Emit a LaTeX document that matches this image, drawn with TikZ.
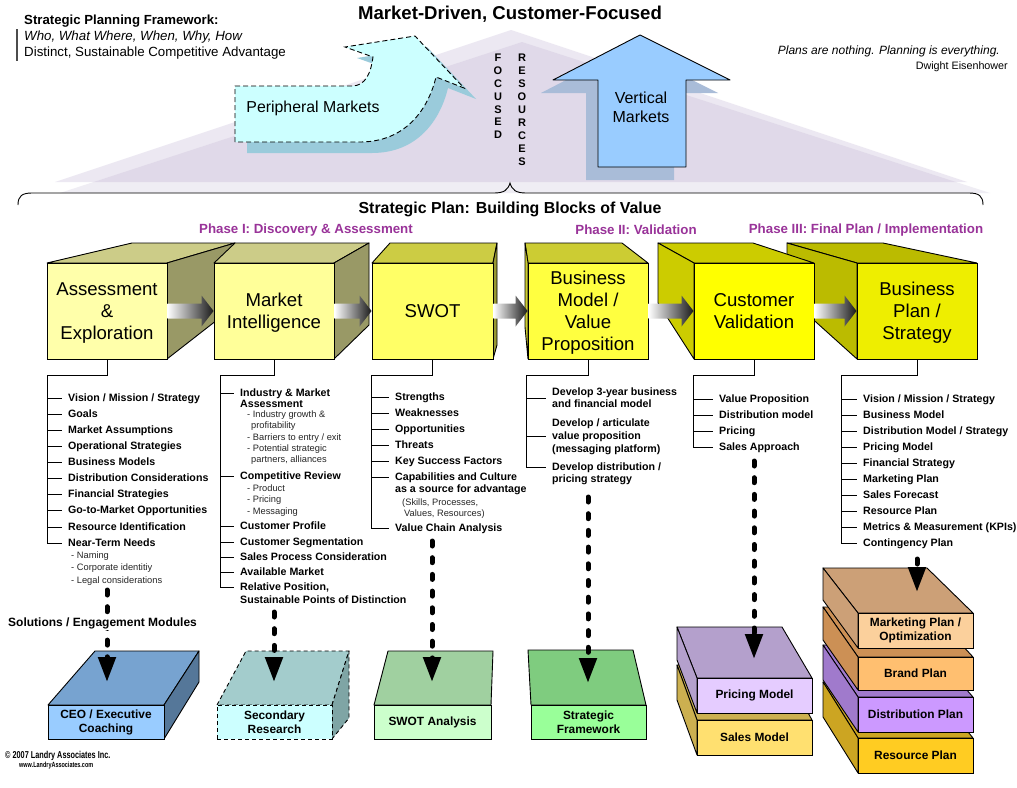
\documentclass[tikz,border=0pt]{standalone}
\usepackage{fontspec}
\setmainfont{Liberation Sans}
\newfontfamily\narrowfont[FakeStretch=0.73]{Liberation Sans}
\usetikzlibrary{arrows.meta,calc}
\newcommand\myfs[2]{\fontsize{#1}{#2}\selectfont}
\definecolor{lavA}{HTML}{ECE8F2}
\definecolor{lavB}{HTML}{EFEDF4}
\definecolor{lavC}{HTML}{E0D9E9}
\definecolor{perifill}{HTML}{CCFFFF}
\definecolor{perishad}{HTML}{9ACBDB}
\definecolor{vertfill}{HTML}{99CCFF}
\definecolor{vertshad}{HTML}{A9BCD8}
\definecolor{phasecol}{HTML}{993399}
\definecolor{cAfront}{HTML}{FFFFAA}
\definecolor{cBfront}{HTML}{FFFF99}
\definecolor{cABtop}{HTML}{CCCC88}
\definecolor{cABside}{HTML}{999966}
\definecolor{cCfront}{HTML}{FFFF66}
\definecolor{cCtop}{HTML}{CCCC44}
\definecolor{cCside}{HTML}{999933}
\definecolor{cDfront}{HTML}{FFFF40}
\definecolor{cDtop}{HTML}{CCCC33}
\definecolor{cEfront}{HTML}{FFFF00}
\definecolor{cEtop}{HTML}{CCCC00}
\definecolor{cFfront}{HTML}{EEEE00}
\definecolor{cFtop}{HTML}{BBBB00}
\definecolor{mAfront}{HTML}{99CCFF}
\definecolor{mAtop}{HTML}{77A3D0}
\definecolor{mAside}{HTML}{557799}
\definecolor{mBfront}{HTML}{CCFFFF}
\definecolor{mBtop}{HTML}{A3CCCC}
\definecolor{mBside}{HTML}{7FA5A5}
\definecolor{mCfront}{HTML}{CCFFCC}
\definecolor{mCtop}{HTML}{A0D0A0}
\definecolor{mDfront}{HTML}{99FF99}
\definecolor{mDtop}{HTML}{7FCC7F}
\definecolor{pricefront}{HTML}{E5CCFF}
\definecolor{pricetop}{HTML}{B4A0CC}
\definecolor{salesfront}{HTML}{FFE070}
\definecolor{salestop}{HTML}{CCB050}
\definecolor{mktfront}{HTML}{FBD09C}
\definecolor{mkttop}{HTML}{CCA077}
\definecolor{brandfront}{HTML}{FFBF70}
\definecolor{brandtop}{HTML}{CC9055}
\definecolor{distfront}{HTML}{CC99FF}
\definecolor{disttop}{HTML}{A07ACC}
\definecolor{resfront}{HTML}{FFCC22}
\definecolor{restop}{HTML}{CCA522}
\begin{document}
\begin{tikzpicture}[x=1pt,y=-1pt,
  every node/.style={inner sep=0pt},
  edge/.style={draw=black,line width=0.9pt,line join=round},
  tree/.style={line width=0.9pt},
  cubefront/.style={draw=black,line width=0.9pt,minimum width=120pt,minimum height=96pt,align=center,text depth=0pt,font=\myfs{18.6}{22}},
  modfront/.style={draw=black,line width=0.9pt,align=center,font=\bfseries\myfs{11.9}{14}},
  itm/.style={anchor=west,inner xsep=6pt,inner ysep=0pt,font=\bfseries\myfs{10.65}{12},text height=7.6pt,text depth=0pt},
  subitm/.style={anchor=west,inner sep=0pt,font=\myfs{9.3}{11},text height=6.7pt,text depth=0pt,text=black!85},
  garrow/.style={left color=white,middle color=black!40,right color=black!90},
  dasharr/.style={line width=5pt,dash pattern=on 5pt off 11.7pt,line cap=round,-{Triangle[width=17pt,length=25pt]}},
  phase/.style={font=\bfseries\myfs{13.3}{15},text=phasecol}]
\useasboundingbox (0,0) rectangle (1017,787);
\fill[white] (0,0) rectangle (1017,787);

% background triangles
\fill[lavA] (55,182) -- (511,30) -- (967,182) -- cycle;
\fill[lavB] (60,193) -- (522,42) -- (990,193) -- cycle;
\begin{scope}
  \clip (55,182) -- (511,30) -- (967,182) -- cycle;
  \fill[lavC] (60,193) -- (522,42) -- (990,193) -- cycle;
\end{scope}

% brace
\draw[line width=0.9pt] (18,205) .. controls (18,196) and (22,193) .. (32,193) -- (494,193)
  .. controls (504,193) and (508,190) .. (510,183) .. controls (512,190) and (516,193) .. (526,193)
  -- (969,193) .. controls (979,193) and (983,196) .. (983,205);

% peripheral markets arrow
\fill[perishad,shift={(12,11)}] (235,142) -- (235,86) -- (352,86) .. controls (366,86) and (371,72) .. (373,57)
  -- (345,47) -- (415,36) -- (464,88) -- (436,77) .. controls (428,110) and (405,142) .. (360,142) -- cycle;
\filldraw[fill=perifill,draw=black,line width=0.9pt,dash pattern=on 5pt off 3pt]
  (235,142) -- (235,86) -- (352,86) .. controls (366,86) and (371,72) .. (373,57)
  -- (345,47) -- (415,36) -- (464,88) -- (436,77) .. controls (428,110) and (405,142) .. (360,142) -- cycle;
\node[font=\myfs{15.85}{18}] (peri) at (313,108) {Peripheral Markets};

% vertical markets arrow
\fill[vertshad,shift={(-12,13)}] (598,167) -- (598,80) -- (553,80) -- (640,35) -- (730,80) -- (686,80) -- (686,167) -- cycle;
\filldraw[fill=vertfill,edge] (598,167) -- (598,80) -- (553,80) -- (640,35) -- (730,80) -- (686,80) -- (686,167) -- cycle;
\node[font=\myfs{16}{19},align=center] (vert) at (641,107) {Vertical\\Markets};

% vertical words
\node[font=\bfseries\myfs{11}{12.8},align=center] (foc) at (498,96.5) {F\\O\\C\\U\\S\\E\\D};
\node[font=\bfseries\myfs{11}{13},align=center] (res) at (522,110) {R\\E\\S\\O\\U\\R\\C\\E\\S};

% top texts
\node[font=\bfseries\myfs{18.6}{22}] (title) at (510,14) {Market-Driven, Customer-Focused};
\node[anchor=west,font=\bfseries\myfs{13.2}{15}] (spf) at (24,21) {Strategic Planning Framework:};
\node[anchor=west,font=\itshape\myfs{13.3}{15}] (who) at (24,37) {Who, What Where, When, Why, How};
\node[anchor=west,font=\myfs{13.3}{15}] (dist) at (24,53) {Distinct, Sustainable Competitive Advantage};
\draw[line width=1.5pt,black!70] (17,29) -- (17,61);
\node[anchor=east,font=\itshape\myfs{12}{14}] (quote) at (1000,51) {Plans are nothing. Planning is everything.};
\node[anchor=east,font=\myfs{10.75}{13}] (ike) at (1008,67) {Dwight Eisenhower};

\node[font=\bfseries\myfs{15.9}{18}] (spbb) at (510,209) {Strategic Plan: Building Blocks of Value};
\node[phase] (ph1) at (306,230) {Phase I: Discovery \& Assessment};
\node[phase] (ph2) at (636,230) {Phase II: Validation};
\node[phase] (ph3) at (866,230) {Phase III: Final Plan / Implementation};

% cube 1
\filldraw[fill=cABtop,edge] (47,263) -- (132,243) -- (235,243) -- (167,263) -- cycle;
\filldraw[fill=cABside,edge] (167,263) -- (235,243) -- (235,306) -- (167,359) -- cycle;
\node[cubefront,fill=cAfront] (c1) at (107,311) {Assessment\\\&\\Exploration};
% cube 2
\filldraw[fill=cABtop,edge] (214,263) -- (235,243) -- (369,243) -- (334,263) -- cycle;
\filldraw[fill=cABside,edge] (334,263) -- (369,243) -- (369,325) -- (334,359) -- cycle;
\node[cubefront,fill=cBfront] (c2) at (274,311) {Market\\Intelligence};
% cube 3
\filldraw[fill=cCtop,edge] (372,263) -- (390,243) -- (497,243) -- (493,263) -- cycle;
\filldraw[fill=cCside,edge] (493,263) -- (497,243) -- (497,345) -- (493,359) -- cycle;
\node[cubefront,fill=cCfront,minimum width=121pt] (c3) at (432.5,311) {SWOT};
% cube 4
\filldraw[fill=cDtop,edge] (528,263) -- (525,243) -- (622,243) -- (648,263) -- cycle;
\filldraw[fill=cDtop,edge] (528,263) -- (525,243) -- (525,327) -- (528,359) -- cycle;
\node[cubefront,fill=cDfront] (c4) at (588,311) {Business\\Model /\\Value\\Proposition};
% cube 6
\filldraw[fill=cFtop,edge] (857,263) -- (787,243) -- (883,243) -- (977,263) -- cycle;
\filldraw[fill=cFtop,edge] (857,263) -- (787,243) -- (787,296) -- (857,359) -- cycle;
\node[cubefront,fill=cFfront] (c6) at (917,311) {Business\\Plan /\\Strategy};
% cube 5
\filldraw[fill=cEtop,edge] (694,263) -- (658,243) -- (753,243) -- (814,263) -- cycle;
\filldraw[fill=cEtop,edge] (694,263) -- (658,243) -- (658,303) -- (694,359) -- cycle;
\node[cubefront,fill=cEfront] (c5) at (754,311) {Customer\\Validation};

% gradient arrows between cubes
\foreach \p/\q in {c1/c2,c2/c3,c3/c4,c4/c5,c5/c6}{
  \shade[garrow] ($(\p.east)+(0,-7.5)$) -- ($(\q.west)+(-12,-7.5)$) -- ($(\q.west)+(-12,-15.5)$) -- (\q.west)
    -- ($(\q.west)+(-12,15.5)$) -- ($(\q.west)+(-12,7.5)$) -- ($(\p.east)+(0,7.5)$) -- cycle;
}

% ---- list 1
\coordinate (j1) at (47,375);
\node[itm] (a1) at (62,398) {Vision / Mission / Strategy};
\node[itm] (a2) at (62,414) {Goals};
\node[itm] (a3) at (62,430) {Market Assumptions};
\node[itm] (a4) at (62,446) {Operational Strategies};
\node[itm] (a5) at (62,462) {Business Models};
\node[itm] (a6) at (62,478) {Distribution Considerations};
\node[itm] (a7) at (62,494) {Financial Strategies};
\node[itm] (a8) at (62,510) {Go-to-Market Opportunities};
\node[itm] (a9) at (62,527) {Resource Identification};
\node[itm] (a10) at (62,543) {Near-Term Needs};
\node[subitm] (a10s1) at (71,555) {- Naming};
\node[subitm] (a10s2) at (71,567) {- Corporate identitiy};
\node[subitm] (a10s3) at (71,580) {- Legal considerations};
\draw[tree] (c1.south) |- (j1);
\foreach \i in {1,...,10} \draw[tree] (j1) |- (a\i.west);

% ---- list 2
\coordinate (j2) at (220,375);
\node[itm] (b1) at (234,393) {Industry \& Market};
\node[itm] (b1x) at (234,404) {Assessment};
\node[subitm] (b1s1) at (247,414) {- Industry growth \&};
\node[subitm] (b1s2) at (251,425) {profitability};
\node[subitm] (b1s3) at (247,437) {- Barriers to entry / exit};
\node[subitm] (b1s4) at (247,448) {- Potential strategic};
\node[subitm] (b1s5) at (251,459) {partners, alliances};
\node[itm] (b2) at (234,476) {Competitive Review};
\node[subitm] (b2s1) at (247,488) {- Product};
\node[subitm] (b2s2) at (247,499) {- Pricing};
\node[subitm] (b2s3) at (247,511) {- Messaging};
\node[itm] (b3) at (234,526) {Customer Profile};
\node[itm] (b4) at (234,542) {Customer Segmentation};
\node[itm] (b5) at (234,557) {Sales Process Consideration};
\node[itm] (b6) at (234,572) {Available Market};
\node[itm] (b7) at (234,587) {Relative Position,};
\node[itm] (b7x) at (234,600) {Sustainable Points of Distinction};
\draw[tree] (c2.south) |- (j2);
\foreach \i in {1,...,7} \draw[tree] (j2) |- (b\i.west);

% ---- list 3
\coordinate (j3) at (371,375);
\node[itm] (s1) at (389,397) {Strengths};
\node[itm] (s2) at (389,413) {Weaknesses};
\node[itm] (s3) at (389,429) {Opportunities};
\node[itm] (s4) at (389,445) {Threats};
\node[itm] (s5) at (389,461) {Key Success Factors};
\node[itm] (s6) at (389,477) {Capabilities and Culture};
\node[itm] (s6x) at (389,489) {as a source for advantage};
\node[subitm] (s6s1) at (402,502) {(Skills, Processes,};
\node[subitm] (s6s2) at (404,513) {Values, Resources)};
\node[itm] (s7) at (389,528) {Value Chain Analysis};
\draw[tree] (c3.south) |- (j3);
\foreach \i in {1,...,7} \draw[tree] (j3) |- (s\i.west);

% ---- list 4
\coordinate (j4) at (526,375);
\node[itm] (m1a) at (546,392) {Develop 3-year business};
\node[itm] (m1b) at (546,404) {and financial model};
\node[itm] (m2a) at (546,423) {Develop / articulate};
\node[itm] (m2b) at (546,436) {value proposition};
\node[itm] (m2c) at (546,449) {(messaging platform)};
\node[itm] (m3a) at (546,467) {Develop distribution /};
\node[itm] (m3b) at (546,479) {pricing strategy};
\draw[tree] (c4.south) |- (j4);
\draw[tree] (j4) |- ($(m1a.west)!0.5!(m1b.west)$);
\draw[tree] (j4) |- (m2b.west);
\draw[tree] (j4) |- (m3a.west);

% ---- list 5
\coordinate (j5) at (693,375);
\node[itm] (v1) at (713,399) {Value Proposition};
\node[itm] (v2) at (713,415) {Distribution model};
\node[itm] (v3) at (713,431) {Pricing};
\node[itm] (v4) at (713,447) {Sales Approach};
\draw[tree] (c5.south) |- (j5);
\foreach \i in {1,...,4} \draw[tree] (j5) |- (v\i.west);

% ---- list 6
\coordinate (j6) at (841,375);
\node[itm] (p1) at (857,399) {Vision / Mission / Strategy};
\node[itm] (p2) at (857,415) {Business Model};
\node[itm] (p3) at (857,431) {Distribution Model / Strategy};
\node[itm] (p4) at (857,447) {Pricing Model};
\node[itm] (p5) at (857,463) {Financial Strategy};
\node[itm] (p6) at (857,479) {Marketing Plan};
\node[itm] (p7) at (857,495) {Sales Forecast};
\node[itm] (p8) at (857,511) {Resource Plan};
\node[itm] (p9) at (857,527) {Metrics \& Measurement (KPIs)};
\node[itm] (p10) at (857,543) {Contingency Plan};
\draw[tree] (c6.south) |- (j6);
\foreach \i in {1,...,10} \draw[tree] (j6) |- (p\i.west);

% ---- modules
% M1
\filldraw[fill=mAtop,edge] (48,705) -- (95,651) -- (199,651) -- (164,705) -- cycle;
\filldraw[fill=mAside,edge] (164,705) -- (199,651) -- (199,682) -- (164,739) -- cycle;
\node[modfront,fill=mAfront,minimum width=116pt,minimum height=34pt] (mod1) at (106,722) {CEO / Executive\\Coaching};
% M2
\filldraw[fill=mBtop,edge,dash pattern=on 4pt off 3pt] (217,705) -- (246,651) -- (349,651) -- (332,705) -- cycle;
\filldraw[fill=mBside,edge,dash pattern=on 4pt off 3pt] (332,705) -- (349,651) -- (349,718) -- (332,739) -- cycle;
\node[modfront,fill=mBfront,dash pattern=on 4pt off 3pt,minimum width=115pt,minimum height=34pt] (mod2) at (274.5,722) {Secondary\\Research};
% M3
\filldraw[fill=mCtop,edge] (374,705) -- (388,651) -- (493,651) -- (491,705) -- cycle;
\node[modfront,fill=mCfront,minimum width=117pt,minimum height=34pt] (mod3) at (432.5,722) {SWOT Analysis};
% M4
\filldraw[fill=mDtop,edge] (531,705) -- (528,650) -- (633,650) -- (646,705) -- cycle;
\node[modfront,fill=mDfront,minimum width=115pt,minimum height=34pt] (mod4) at (588.5,722) {Strategic\\Framework};
% M5 stack
\filldraw[fill=salestop,edge] (697,720) -- (677,665) -- (782,665) -- (812,720) -- cycle;
\filldraw[fill=salestop,edge] (697,720) -- (677,665) -- (677,700) -- (697,755) -- cycle;
\node[modfront,fill=salesfront,minimum width=115pt,minimum height=35pt] (sales) at (754.5,737.5) {Sales Model};
\filldraw[fill=pricetop,edge] (697,678) -- (677,627) -- (782,627) -- (812,678) -- cycle;
\filldraw[fill=pricetop,edge] (697,678) -- (677,627) -- (677,660) -- (697,713) -- cycle;
\node[modfront,fill=pricefront,minimum width=115pt,minimum height=35pt] (pricing) at (754.5,695.5) {Pricing Model};
% M6 stack
\filldraw[fill=restop,edge] (858,738) -- (823,682) -- (927,682) -- (973,738) -- cycle;
\filldraw[fill=restop,edge] (858,738) -- (823,682) -- (823,717) -- (858,773) -- cycle;
\node[modfront,fill=resfront,minimum width=115pt,minimum height=35pt] (resplan) at (915.5,755.5) {Resource Plan};
\filldraw[fill=disttop,edge] (858,697) -- (823,645) -- (927,645) -- (973,697) -- cycle;
\filldraw[fill=disttop,edge] (858,697) -- (823,645) -- (823,680) -- (858,732) -- cycle;
\node[modfront,fill=distfront,minimum width=115pt,minimum height=35pt] (distplan) at (915.5,714.5) {Distribution Plan};
\filldraw[fill=brandtop,edge] (858,657) -- (823,607) -- (927,607) -- (973,657) -- cycle;
\filldraw[fill=brandtop,edge] (858,657) -- (823,607) -- (823,640) -- (858,690) -- cycle;
\node[modfront,fill=brandfront,minimum width=115pt,minimum height=33pt] (brandplan) at (915.5,673.5) {Brand Plan};
\filldraw[fill=mkttop,edge] (858,613) -- (823,568) -- (927,568) -- (973,613) -- cycle;
\filldraw[fill=mkttop,edge] (858,613) -- (823,568) -- (823,600) -- (858,648) -- cycle;
\node[modfront,fill=mktfront,minimum width=115pt,minimum height=35pt] (mktplan) at (915.5,630.5) {Marketing Plan /\\Optimization};

% dashed arrows
\coordinate (d1s) at (107,590); \coordinate (d1e) at (107,682);
\coordinate (d2s) at (274,612); \coordinate (d2e) at (274,682);
\coordinate (d3s) at (432,541); \coordinate (d3e) at (432,682);
\coordinate (d4s) at (588,497); \coordinate (d4e) at (588,683);
\coordinate (d5s) at (754,461); \coordinate (d5e) at (754,659);
\coordinate (d6s) at (917,559); \coordinate (d6e) at (917,592);
\foreach \i in {1,...,6} \draw[dasharr] (d\i s) -- (d\i e);

\node[anchor=west,fill=white,inner sep=1pt,font=\bfseries\myfs{12}{14}] (sem) at (7,623) {Solutions / Engagement Modules};

% copyright
\node[anchor=west,font=\narrowfont\bfseries\myfs{10}{12}] (copy) at (5,756) {© 2007 Landry Associates Inc.};
\node[anchor=west,font=\narrowfont\bfseries\myfs{7.5}{9}] (web) at (19,766) {www.LandryAssociates.com};
\end{tikzpicture}
\end{document}
